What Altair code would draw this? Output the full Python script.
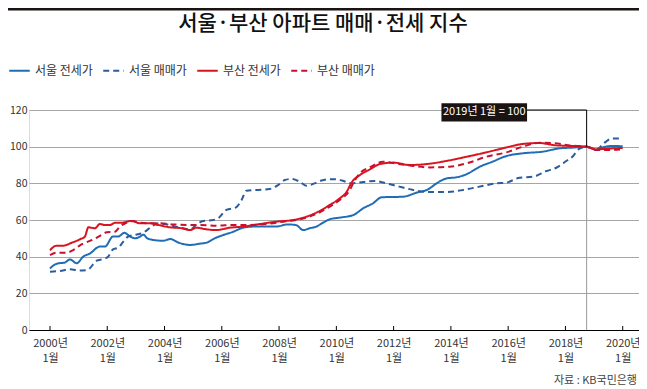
import altair as alt
import pandas as pd

FONT = "Noto Sans CJK KR"

title_text = "서울·부산 아파트 매매·전세 지수"
source_text = "자료 : KB국민은행"
note_text = "2019년 1월 = 100"

series_names = ["서울 전세가", "서울 매매가", "부산 전세가", "부산 매매가"]
series_colors = ["#1f6db5", "#2b5c9c", "#d9141f", "#c8102e"]
series_dashes = [[1, 0], [6, 4], [1, 0], [6, 4]]

tick_years = [2000, 2002, 2004, 2006, 2008, 2010, 2012, 2014, 2016, 2018, 2020]
y_ticks = [0, 20, 40, 60, 80, 100, 120]

# 서울 전세가
seoul_jeonse_year = [2000.0, 2000.15, 2000.3, 2000.5, 2000.7, 2000.93, 2001.16, 2001.4, 2001.74, 2001.92,
                     2002.2, 2002.38, 2002.6, 2002.8, 2002.97, 2003.15, 2003.26, 2003.4, 2003.66, 2003.95,
                     2004.2, 2004.5, 2004.9, 2005.2, 2005.5, 2005.7, 2006.05, 2006.4, 2006.74, 2007.1,
                     2007.56, 2007.9, 2008.3, 2008.6, 2008.84, 2009.07, 2009.3, 2009.53, 2009.77, 2010.12,
                     2010.59, 2010.94, 2011.28, 2011.58, 2012.33, 2012.8, 2013.2, 2013.5, 2013.85, 2014.2,
                     2014.55, 2015.0, 2015.45, 2015.94, 2016.52, 2017.22, 2017.8, 2018.27, 2018.74, 2019.08,
                     2019.3, 2019.66, 2020.0]
seoul_jeonse_val = [33.6, 35.5, 36.4, 36.7, 38.5, 36.4, 40.0, 41.8, 45.5, 45.5,
                    51.0, 51.0, 53.0, 51.0, 50.0, 51.0, 52.0, 50.0, 49.0, 48.7,
                    49.6, 47.6, 46.4, 47.0, 47.8, 49.6, 51.8, 53.6, 55.8, 56.4,
                    56.4, 56.4, 57.6, 57.2, 54.5, 55.5, 56.4, 58.5, 60.4, 61.3,
                    62.7, 66.4, 69.1, 72.4, 72.7, 74.9, 76.7, 80.0, 82.7, 83.3,
                    85.0, 89.0, 91.8, 94.9, 96.4, 97.3, 99.1, 99.5, 100.0, 98.2,
                    99.6, 100.4, 100.2]

# 서울 매매가
seoul_maemae_year = [2000.0, 2000.35, 2000.7, 2001.05, 2001.3, 2001.63, 2001.86, 2002.03, 2002.2, 2002.38,
                     2002.56, 2002.73, 2003.0, 2003.26, 2003.55, 2003.78, 2004.0, 2004.3, 2004.65, 2004.9,
                     2005.1, 2005.35, 2005.7, 2005.87, 2006.16, 2006.5, 2006.69, 2006.86, 2007.2, 2007.67,
                     2007.97, 2008.2, 2008.43, 2008.72, 2008.95, 2009.24, 2009.48, 2009.75, 2010.0, 2010.2,
                     2010.53, 2010.94, 2011.34, 2011.75, 2012.2, 2012.68, 2013.15, 2013.84, 2014.43, 2015.0,
                     2015.6, 2015.94, 2016.4, 2016.87, 2017.34, 2017.68, 2018.03, 2018.27, 2018.45, 2018.74,
                     2019.08, 2019.37, 2019.6, 2020.0]
seoul_maemae_val = [31.8, 32.2, 33.1, 32.4, 32.7, 37.8, 38.7, 40.0, 44.0, 44.9,
                    48.2, 51.0, 52.0, 53.1, 56.4, 58.2, 57.8, 56.7, 55.5, 54.9,
                    57.3, 59.5, 60.0, 60.9, 65.5, 66.9, 70.9, 76.0, 76.4, 76.9,
                    79.1, 81.8, 82.4, 80.9, 78.7, 80.0, 81.5, 82.2, 82.2, 81.5,
                    80.0, 80.7, 81.3, 80.0, 78.2, 76.4, 75.3, 75.3, 76.4, 78.2,
                    80.0, 80.4, 83.1, 83.6, 86.7, 88.5, 92.2, 94.9, 98.5, 100.0,
                    98.5, 102.2, 104.4, 104.4]

# 부산 전세가
busan_jeonse_year = [2000.0, 2000.23, 2000.46, 2000.76, 2001.05, 2001.22, 2001.34, 2001.57, 2001.74, 2001.92,
                     2002.1, 2002.27, 2002.5, 2002.85, 2003.14, 2003.5, 2003.78, 2004.19, 2004.6, 2004.9,
                     2005.1, 2005.47, 2005.8, 2006.28, 2006.74, 2007.33, 2007.9, 2008.5, 2008.95, 2009.3,
                     2009.77, 2010.12, 2010.36, 2010.53, 2010.82, 2011.17, 2011.52, 2012.0, 2012.56, 2013.15,
                     2013.84, 2014.55, 2015.24, 2015.94, 2016.52, 2017.1, 2017.57, 2018.15, 2018.74, 2019.08,
                     2019.43, 2020.0]
busan_jeonse_val = [43.5, 46.0, 46.0, 47.6, 49.5, 51.0, 56.0, 55.5, 57.8, 57.3,
                    57.3, 58.5, 58.5, 59.5, 58.2, 58.2, 57.3, 56.0, 55.5, 54.5,
                    55.8, 54.9, 54.5, 55.8, 56.4, 57.8, 59.1, 60.0, 61.8, 64.0,
                    68.2, 71.8, 75.4, 80.4, 84.5, 87.6, 90.5, 91.3, 90.0, 90.5,
                    92.2, 94.5, 96.9, 99.6, 101.5, 102.0, 100.9, 100.4, 100.0, 98.5,
                    98.9, 99.3]

# 부산 매매가
busan_maemae_year = [2000.0, 2000.23, 2000.58, 2000.81, 2001.1, 2001.45, 2001.74, 2001.98, 2002.27, 2002.44,
                     2002.67, 2002.9, 2003.14, 2003.5, 2003.84, 2004.3, 2004.77, 2005.23, 2005.81, 2006.4,
                     2006.98, 2007.56, 2008.14, 2008.72, 2009.3, 2009.77, 2010.12, 2010.47, 2010.6, 2010.82,
                     2011.17, 2011.63, 2012.1, 2012.68, 2013.26, 2013.96, 2014.55, 2015.24, 2015.94, 2016.52,
                     2017.1, 2017.57, 2018.15, 2018.74, 2019.08, 2019.5, 2020.0]
busan_maemae_val = [40.9, 42.2, 42.2, 43.6, 46.7, 49.0, 51.3, 53.3, 53.6, 56.4,
                    58.5, 59.5, 58.5, 58.2, 58.2, 57.6, 57.3, 57.3, 56.9, 57.3,
                    57.3, 57.8, 59.1, 60.4, 63.3, 67.3, 70.9, 76.4, 80.4, 85.5,
                    88.7, 91.8, 90.7, 89.5, 88.7, 89.1, 90.9, 94.5, 96.9, 100.0,
                    102.2, 102.0, 100.7, 100.0, 98.2, 98.2, 98.5]

base_year = 2018.74   # position of the "2019년 1월" reference line on the drawn axis
box_x = [2013.67]
box_x2 = [2016.66]
box_y = [113.7]
box_y2 = [123.7]

all_years = [seoul_jeonse_year, seoul_maemae_year, busan_jeonse_year, busan_maemae_year]
all_vals = [seoul_jeonse_val, seoul_maemae_val, busan_jeonse_val, busan_maemae_val]
rows = []
for name, ys, vs in zip(series_names, all_years, all_vals):
    for yr, v in zip(ys, vs):
        rows.append({"series": name, "year": yr, "value": v})
df = pd.DataFrame(rows)

LEFT = 21
W, H = 610, 220
TOP = 102      # plot top at page y = TOP + 8
BOTTOM = 59
x_scale = alt.Scale(domain=[1999.2667, 2020.569], nice=False, zero=False)
y_scale = alt.Scale(domain=[0, 120], nice=False)

x_axis = alt.Axis(values=tick_years, grid=False, ticks=False, domain=True,
                  domainColor="#000000", domainWidth=1.2,
                  labelExpr="[format(datum.value, 'd') + '년', '1월']",
                  labelFont=FONT, labelFontSize=11, labelColor="#333333",
                  labelPadding=7, labelLineHeight=15, labelFlush=False,
                  labelOverlap=False)
y_axis = alt.Axis(values=y_ticks, grid=True, gridColor="#a6a6a6", gridWidth=1,
                  ticks=False, domain=False, labelFont=FONT, labelFontSize=10.5,
                  labelColor="#333333", labelPadding=2, labelOverlap=False,
                  labelFlush=False)


def X(field="year"):
    return alt.X(f"{field}:Q", scale=x_scale, axis=x_axis, title=None)


def Y(field="value"):
    return alt.Y(f"{field}:Q", scale=y_scale, axis=y_axis, title=None)


legend = alt.Legend(
    orient="none", legendX=-LEFT, legendY=70 - (TOP + 8) - 11, direction="horizontal", columns=4,
    symbolType="stroke", symbolSize=420, symbolStrokeWidth=2, labelFontSize=12,
    labelFont=FONT, labelColor="#333333", labelOffset=4, columnPadding=6,
    title=None, padding=0,
)

lines = alt.Chart(df).mark_line(strokeWidth=2, interpolate="monotone").encode(
    x=X(), y=Y(),
    color=alt.Color("series:N", scale=alt.Scale(domain=series_names, range=series_colors),
                    legend=legend, title=None),
    strokeDash=alt.StrokeDash("series:N", scale=alt.Scale(domain=series_names, range=series_dashes),
                              legend=legend, title=None),
)

tick_df = pd.DataFrame({"year": tick_years, "value": [0] * len(tick_years), "value2": [2.2] * len(tick_years)})
ticks = alt.Chart(tick_df).mark_rule(color="#000000", strokeWidth=1).encode(
    x=X(), y=Y(), y2="value2:Q")

vgrey = alt.Chart(pd.DataFrame({"year": [base_year], "value": [0], "value2": [100]})).mark_rule(
    color="#9a9a9a", strokeWidth=1).encode(x=X(), y=Y(), y2="value2:Q")
vblack = alt.Chart(pd.DataFrame({"year": [base_year], "value": [100], "value2": [120]})).mark_rule(
    color="#000000", strokeWidth=1).encode(x=X(), y=Y(), y2="value2:Q")
hblack = alt.Chart(pd.DataFrame({"year": box_x2, "year2": [base_year], "value": [120]})).mark_rule(
    color="#000000", strokeWidth=1).encode(x=X(), x2="year2:Q", y=Y())

box = alt.Chart(pd.DataFrame({"year": box_x, "year2": box_x2, "value": box_y, "value2": box_y2})).mark_rect(
    color="#1a1311").encode(x=X(), x2="year2:Q", y=Y(), y2="value2:Q")
box_text = alt.Chart(pd.DataFrame({"year": [(box_x[0] + box_x2[0]) / 2], "value": [(box_y[0] + box_y2[0]) / 2],
                                   "t": [note_text]})).mark_text(
    color="#ffffff", font=FONT, fontSize=11, baseline="middle", align="center").encode(
    x=X(), y=Y(), text="t:N")

title = alt.Chart(pd.DataFrame({"t": [title_text]})).mark_text(
    font=FONT, fontSize=21, fontWeight=500, color="#111111", align="center", baseline="middle").encode(
    x=alt.value(323 - (LEFT + 8)), y=alt.value(24 - (TOP + 8)), text="t:N")

source = alt.Chart(pd.DataFrame({"t": [source_text]})).mark_text(
    font=FONT, fontSize=11, color="#444444", align="right", baseline="middle").encode(
    x=alt.value(W - 2), y=alt.value(H + 51), text="t:N")

topline = alt.Chart(pd.DataFrame({"t": [0]})).mark_rule(color="#1a1311", strokeWidth=2.5).encode(
    x=alt.value(-LEFT), x2=alt.value(W), y=alt.value(-TOP + 1.25))

chart = alt.layer(vgrey, lines, ticks, vblack, hblack, box, box_text, title, source, topline).properties(
    width=W, height=H,
    autosize=alt.AutoSizeParams(type="none"),
    padding={"left": LEFT, "top": TOP, "right": 0, "bottom": BOTTOM},
).configure_view(stroke=None).configure(background="#ffffff")

chart.save("out.html", embed_options={"renderer": "svg", "actions": False})
